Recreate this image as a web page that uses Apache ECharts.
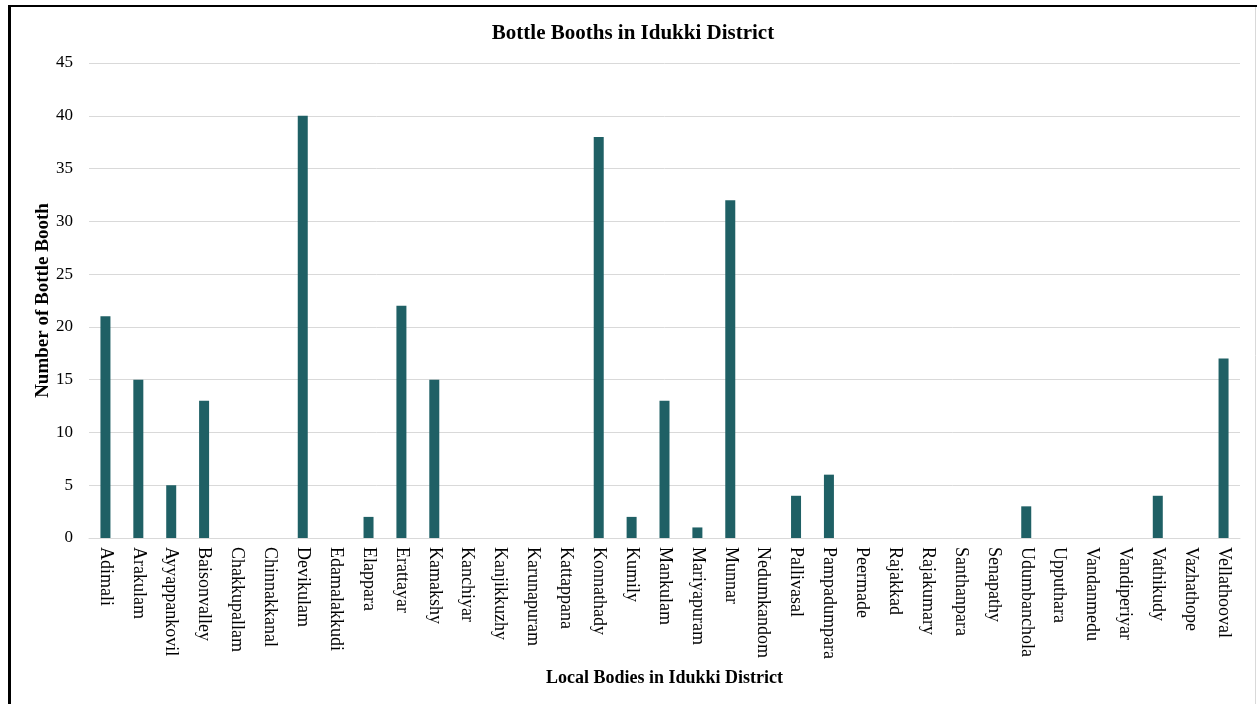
<!DOCTYPE html>
<html>
<head>
<meta charset="utf-8">
<script src="https://cdn.jsdelivr.net/npm/echarts@6/dist/echarts.min.js"></script>
<style>
html,body{margin:0;padding:0;background:#fff;}
#chart{width:1257px;height:704px;}
</style>
</head>
<body>
<div id="chart"></div>
<script>
const categories = ["Adimali","Arakulam","Ayyappankovil","Baisonvalley","Chakkupallam","Chinnakkanal","Devikulam","Edamalakkudi","Elappara","Erattayar","Kamakshy","Kanchiyar","Kanjikkuzhy","Karunapuram","Kattappana","Konnathady","Kumily","Mankulam","Mariyapuram","Munnar","Nedumkandom","Pallivasal","Pampadumpara","Peermade","Rajakkad","Rajakumary","Santhanpara","Senapathy","Udumbanchola","Upputhara","Vandanmedu","Vandiperiyar","Vathikudy","Vazhathope","Vellathooval"];
const booths = [21,15,5,13,0,0,40,0,2,22,15,0,0,0,0,38,2,13,1,32,0,4,6,0,0,0,0,0,3,0,0,0,4,0,17];
const yTicks = [0,5,10,15,20,25,30,35,40,45];

const font = "'Liberation Serif','Times New Roman',serif";
const chart = echarts.init(document.getElementById('chart'), null, {renderer:'canvas'});
chart.setOption({
  animation:false,
  backgroundColor:'#fff',
  title:{
    text:'Bottle Booths in Idukki District',
    left:628, textAlign:'center', top:18,
    textStyle:{fontFamily:font,fontSize:21,fontWeight:'bold',color:'#000'}
  },
  grid:{left:89,right:17,top:63,bottom:166,containLabel:false},
  xAxis:{
    type:'category',
    data:categories,
    name:'Local Bodies in Idukki District',
    nameLocation:'middle',
    nameGap:131,
    nameMoveOverlap:false,
    nameTextStyle:{fontFamily:font,fontSize:18,fontWeight:'bold',color:'#000'},
    axisLine:{show:true,lineStyle:{color:'#d9d9d9',width:1}},
    axisTick:{show:false},
    axisLabel:{rotate:-90,interval:0,margin:9,fontFamily:font,fontSize:18,color:'#000',
      align:'left',verticalAlign:'middle'}
  },
  yAxis:{
    type:'value',
    min:yTicks[0], max:yTicks[yTicks.length-1], interval:5,
    name:'Number of Bottle Booth',
    nameLocation:'middle',
    nameGap:36,
    nameRotate:90,
    nameMoveOverlap:false,
    nameTextStyle:{fontFamily:font,fontSize:19,fontWeight:'bold',color:'#000'},
    axisLine:{show:false},
    axisTick:{show:false},
    axisLabel:{margin:16,fontFamily:font,fontSize:17,color:'#000'},
    splitLine:{lineStyle:{color:'#d9d9d9',width:1}}
  },
  series:[{
    type:'bar',
    data:booths,
    barWidth:10,
    itemStyle:{color:'#1f6065'}
  }],
  graphic:[
    {type:'line',shape:{x1:9.5,y1:5,x2:9.5,y2:704},style:{stroke:'#000',lineWidth:3}},
    {type:'line',shape:{x1:8,y1:6,x2:1257,y2:6},style:{stroke:'#000',lineWidth:2}},
    {type:'line',shape:{x1:1255.5,y1:7,x2:1255.5,y2:704},style:{stroke:'#d9d9d9',lineWidth:1}}
  ]
});
</script>
</body>
</html>
